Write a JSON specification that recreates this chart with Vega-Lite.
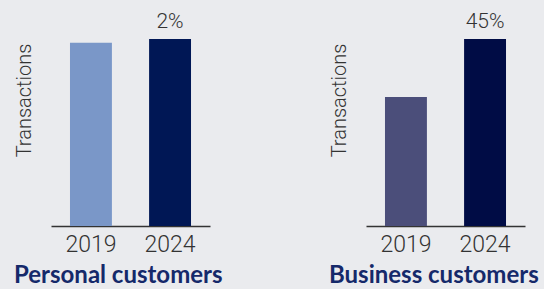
{
  "$schema": "https://vega.github.io/schema/vega-lite/v6.json",
  "background": "#eaebee",
  "padding": {"left": 14, "top": 11, "right": 5, "bottom": 5},
  "datasets": {
    "d": [
      {"segment": "Personal customers", "year": "2019", "value": 98, "bar": "P2019", "label": ""},
      {"segment": "Personal customers", "year": "2024", "value": 100, "bar": "P2024", "label": "2%"},
      {"segment": "Business customers", "year": "2019", "value": 69, "bar": "B2019", "label": ""},
      {"segment": "Business customers", "year": "2024", "value": 100, "bar": "B2024", "label": "45%"}
    ]
  },
  "config": {
    "view": {"stroke": null},
    "font": "Roboto",
    "axisX": {"title": null, "labelAngle": 0, "ticks": false, "domainColor": "#333333", "domainWidth": 1.3, "labelFontSize": 23, "labelFontWeight": 300, "labelColor": "#333333", "labelPadding": 7, "labelFont": "Roboto", "grid": false},
    "axisY": {"labels": false, "ticks": false, "domain": false, "grid": false, "titleFontSize": 20, "titleFontWeight": 300, "titleColor": "#333333", "titlePadding": 17, "titleFont": "Roboto", "titleY": 74},
    "title": {"orient": "bottom", "anchor": "start", "font": "Lato", "fontWeight": "bold", "fontSize": 24, "color": "#15296a", "offset": 8}
  },
  "spacing": 106,
  "hconcat": [
    {
      "data": {"name": "d"},
      "transform": [{"filter": "datum.segment === 'Personal customers'"}],
      "title": {"text": "Personal customers"},
      "width": 159,
      "height": 200,
      "encoding": {
        "x": {"field": "year", "type": "nominal", "scale": {"paddingInner": 0.47, "paddingOuter": 0.24}},
        "y": {"field": "value", "type": "quantitative", "scale": {"domain": [0, 107]}, "axis": {"title": "Transactions"}}
      },
      "layer": [
        {"mark": {"type": "bar"}, "encoding": {"color": {"field": "bar", "type": "nominal", "scale": {"domain": ["P2019", "P2024", "B2019", "B2024"], "range": ["#7a97c8", "#001755", "#4b4e7a", "#000c45"]}, "legend": null}}},
        {"mark": {"type": "text", "baseline": "alphabetic", "dy": -11, "fontSize": 21, "fontWeight": 300, "color": "#333333"}, "encoding": {"text": {"field": "label"}}}
      ]
    },
    {
      "data": {"name": "d"},
      "transform": [{"filter": "datum.segment === 'Business customers'"}],
      "title": {"text": "Business customers"},
      "width": 159,
      "height": 200,
      "encoding": {
        "x": {"field": "year", "type": "nominal", "scale": {"paddingInner": 0.47, "paddingOuter": 0.24}},
        "y": {"field": "value", "type": "quantitative", "scale": {"domain": [0, 107]}, "axis": {"title": "Transactions"}}
      },
      "layer": [
        {"mark": {"type": "bar"}, "encoding": {"color": {"field": "bar", "type": "nominal", "scale": {"domain": ["P2019", "P2024", "B2019", "B2024"], "range": ["#7a97c8", "#001755", "#4b4e7a", "#000c45"]}, "legend": null}}},
        {"mark": {"type": "text", "baseline": "alphabetic", "dy": -11, "fontSize": 21, "fontWeight": 300, "color": "#333333"}, "encoding": {"text": {"field": "label"}}}
      ]
    }
  ]
}
